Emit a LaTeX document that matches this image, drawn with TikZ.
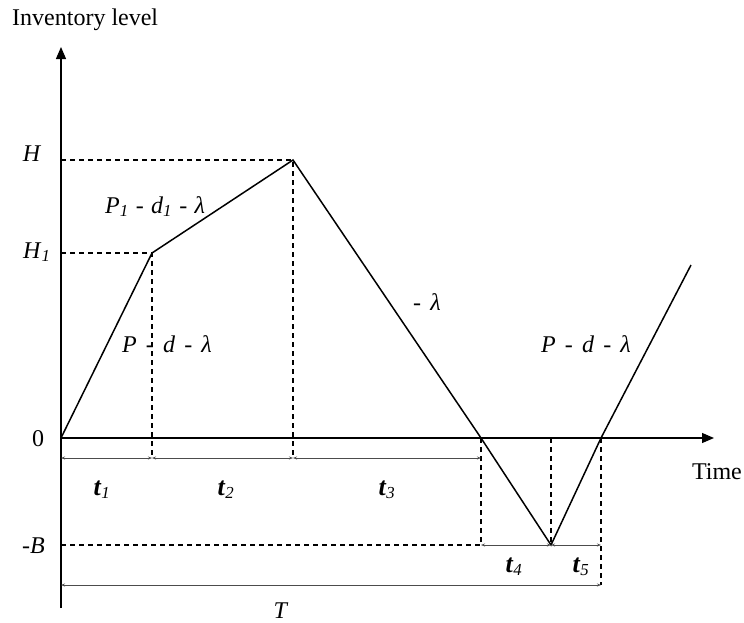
\documentclass[tikz,border=0pt]{standalone}
\usepackage{fontspec}
\setmainfont{Liberation Serif}
\usetikzlibrary{arrows.meta}
\newcommand{\lowidx}[1]{\textsubscript{\textit{#1}}}
\newcommand{\tlab}[1]{{\fontsize{26}{28}\selectfont\textbf{\textit{t}}}\lowidx{#1}}
\newcommand{\mns}{\hspace{0.38em}-\hspace{0.38em}}

\begin{document}
\begin{tikzpicture}[
  x=1pt, y=-1pt,
  lbl/.style={font=\fontsize{24}{28}\selectfont, inner sep=0pt},
  axis/.style={-{Triangle[length=12pt,width=10pt]}, line width=1.2pt},
  curve/.style={line width=1.5pt},
  guide/.style={line width=1.3pt, dash pattern=on 5pt off 4pt},
  dim/.style={{Stealth[length=4pt,width=3pt]}-{Stealth[length=4pt,width=3pt]}, line width=0.9pt, black!70}
]
\useasboundingbox (0,0) rectangle (744,622);

% points of the inventory curve
\coordinate (O) at (61,438);
\coordinate (A) at (152,253);
\coordinate (B) at (293,160);
\coordinate (C) at (481,438);
\coordinate (D) at (551,545);
\coordinate (E) at (601,438);
\coordinate (F) at (691,265);

% axis ends and levels
\coordinate (ytop) at (61,47);
\coordinate (ybot) at (61,608);
\coordinate (xend) at (714,438);
\coordinate (yH) at (61,160);
\coordinate (yH1) at (61,253);
\coordinate (yB) at (61,545);
\coordinate (Dtop) at (551,438);

% dimension line ends
\coordinate (d0) at (61,458);
\coordinate (d1) at (152,458);
\coordinate (d2) at (293,458);
\coordinate (d3) at (481,458);
\coordinate (e3) at (481,545);
\coordinate (e5) at (601,545);
\coordinate (T0) at (61,585);
\coordinate (T1) at (601,585);

\draw[axis] (ybot) -- (ytop);
\draw[axis] (O) -- (xend);
\draw[curve] (O) -- (A) -- (B) -- (C) -- (D) -- (E) -- (F);

\draw[guide] (yH) -- (B) -- (d2);
\draw[guide] (yH1) -- (A) -- (d1);
\draw[guide] (yB) -- (e3) -- (C);
\draw[guide] (Dtop) -- (D);
\draw[guide] (E) -- (T1);

\draw[dim] (d0) -- (d1);
\draw[dim] (d1) -- (d2);
\draw[dim] (d2) -- (d3);
\draw[dim] (e3) -- (D);
\draw[dim] (D) -- (e5);
\draw[dim] (T0) -- (T1);

% axis labels
\node[lbl, anchor=base west] (ylab) at (12,25) {Inventory level};
\node[lbl, anchor=base east] (xlab) at (742,479) {Time};
\node[lbl, anchor=base] (lH) at (32,161) {\textit{H}};
\node[lbl, anchor=base west] (lH1) at (23,258) {\textit{H}\lowidx{1}};
\node[lbl, anchor=base] (lT) at (281,618) {\textit{T}};
\node[lbl, anchor=base] (l0) at (38,446) {0};
\node[lbl, anchor=base east] (lB) at (45,553) {-\textit{B}};

% interval labels
\node[lbl, anchor=base] (lt1) at (102,495) {\tlab{1}};
\node[lbl, anchor=base] (lt2) at (226,495) {\tlab{2}};
\node[lbl, anchor=base] (lt3) at (387,495) {\tlab{3}};
\node[lbl, anchor=base] (lt4) at (514,572) {\tlab{4}};
\node[lbl, anchor=base] (lt5) at (581,572) {\tlab{5}};

% slopes
\node[lbl, anchor=base west] (s1) at (105,213) {\textit{P}\lowidx{1}\hspace{0.3em}-\hspace{0.3em}\textit{d}\lowidx{1}\hspace{0.3em}-\hspace{0.3em}\textit{λ}};
\node[lbl, anchor=base west] (s2) at (122,352) {\textit{P}\mns\textit{d}\mns\textit{λ}};
\node[lbl, anchor=base west] (s3) at (413,310) {-\hspace{0.38em}\textit{λ}};
\node[lbl, anchor=base west] (s4) at (541,352) {\textit{P}\mns\textit{d}\mns\textit{λ}};
\end{tikzpicture}
\end{document}
